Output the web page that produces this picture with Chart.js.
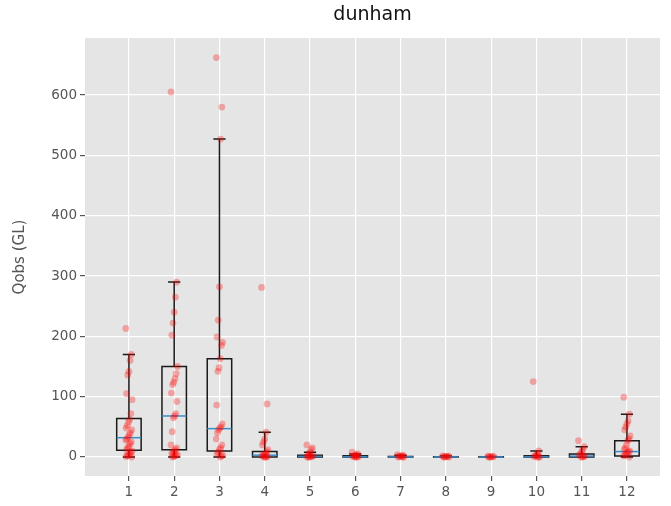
<!DOCTYPE html>
<html><head><meta charset="utf-8">
<script src="https://cdn.jsdelivr.net/npm/chart.js@4/dist/chart.umd.min.js"></script>
<style>html,body{margin:0;padding:0;background:#fff}</style>
</head><body>
<canvas id="c" width="671" height="506"></canvas>
<script>
const months = [1,2,3,4,5,6,7,8,9,10,11,12];
const obs1  = [213,170,160,142,136,105,95,72,62,58,52,48,45,40,37,33,30,28,25,22,18,15,12,10,8,5,3,2,1,0];
const obs2  = [605,290,265,240,222,202,150,138,130,124,120,106,92,72,68,65,42,20,15,12,10,8,6,4,3,2,1,0];
const obs3  = [662,580,527,282,227,199,190,185,163,148,142,86,55,50,48,45,40,30,20,15,12,8,5,3,2,0];
const obs4  = [281,88,41,30,25,20,12,9,6,4,3,2,1,0,0,0];
const obs5  = [20,15,12,8,5,3,2,1,1,0,0,0];
const obs6  = [8,5,4,3,2,1,1,0,0,0];
const obs7  = [4,3,2,1,1,0,0,0];
const obs8  = [2,1.5,1,0.5,0,0,0];
const obs9  = [1.5,1,0.5,0,0,0];
const obs10 = [125,10,6,3,2,1,0,0,0];
const obs11 = [27,17,12,9,5,3,1.5,1,0,0];
const obs12 = [99,71,60,55,50,45,35,30,27,20,15,12,10,9,8,5,3,2,0];
const observations = [obs1,obs2,obs3,obs4,obs5,obs6,obs7,obs8,obs9,obs10,obs11,obs12];

const whiskerLow  = [0,0,0,0,0,0,0,0,0,0,0,0];
const q1          = [11,12,10,0,0,0,0,0,0,0,0,1.5];
const median      = [32,68,47,3,1,0.5,0.3,0.2,0.1,0.5,1.5,9];
const q3          = [64,150,163,9,3,2,1,0.5,0.3,2,5,27];
const whiskerHigh = [170,290,527,41,8,5,3,1.5,1,10,17,71];

const yTicks = [0,100,200,300,400,500,600];

const BOX_W = 0.54;

// scatter points (deterministic small horizontal spread around each month)
const points = [];
observations.forEach((arr, m) => {
  arr.forEach((v, i) => {
    const dx = (((i * 7919) % 17) / 16 - 0.5) * 0.14;
    points.push({x: months[m] + dx, y: v});
  });
});

const bgPlugin = {
  id: 'bg',
  beforeDraw(chart) {
    const {ctx, chartArea: a} = chart;
    ctx.save();
    ctx.fillStyle = '#E5E5E5';
    ctx.fillRect(a.left, a.top, a.right - a.left, a.bottom - a.top);
    ctx.restore();
  }
};

const boxPlugin = {
  id: 'boxes',
  beforeDatasetsDraw(chart) {
    const {ctx, chartArea: a} = chart;
    const xs = chart.scales.x, ys = chart.scales.y;
    ctx.save();
    ctx.beginPath();
    ctx.rect(a.left, a.top, a.right - a.left, a.bottom - a.top);
    ctx.clip();
    months.forEach((m, i) => {
      const xc = xs.getPixelForValue(m);
      const hw = xs.getPixelForValue(m + BOX_W / 2) - xc;
      const cw = hw / 2;
      const yq1 = ys.getPixelForValue(q1[i]);
      const yq3 = ys.getPixelForValue(q3[i]);
      const ymed = ys.getPixelForValue(median[i]);
      const ylo = ys.getPixelForValue(whiskerLow[i]);
      const yhi = ys.getPixelForValue(whiskerHigh[i]);
      ctx.strokeStyle = '#1a1a1a';
      ctx.lineWidth = 1.5;
      ctx.beginPath();
      ctx.rect(xc - hw, yq3, 2 * hw, yq1 - yq3);
      ctx.moveTo(xc, yq3); ctx.lineTo(xc, yhi);
      ctx.moveTo(xc, yq1); ctx.lineTo(xc, ylo);
      ctx.moveTo(xc - cw, yhi); ctx.lineTo(xc + cw, yhi);
      ctx.moveTo(xc - cw, ylo); ctx.lineTo(xc + cw, ylo);
      ctx.stroke();
      ctx.strokeStyle = '#3a8cc8';
      ctx.lineWidth = 1.5;
      ctx.beginPath();
      ctx.moveTo(xc - hw, ymed); ctx.lineTo(xc + hw, ymed);
      ctx.stroke();
    });
    ctx.restore();
  }
};

new Chart(document.getElementById('c'), {
  type: 'scatter',
  data: {
    datasets: [{
      data: points,
      backgroundColor: 'rgba(255,0,0,0.3)',
      borderWidth: 0,
      pointRadius: 3.4,
      pointHoverRadius: 3.4
    }]
  },
  plugins: [bgPlugin, boxPlugin],
  options: {
    responsive: false,
    devicePixelRatio: 1,
    animation: false,
    layout: {padding: {left: 0, right: 11, top: 0, bottom: 0}},
    plugins: {
      legend: {display: false},
      tooltip: {enabled: false},
      title: {
        display: true,
        text: 'dunham',
        fullSize: false,
        color: '#111',
        font: {family: 'DejaVu Sans', size: 19, weight: 'normal'},
        padding: {top: 4, bottom: 11.2}
      }
    },
    scales: {
      x: {
        type: 'linear',
        min: 0.03, max: 12.73,
        afterBuildTicks: s => { s.ticks = months.map(v => ({value: v})); },
        afterFit: s => { s.height = 30; },
        grid: {color: '#FFFFFF', lineWidth: 1.2, tickColor: '#555', tickLength: 5, drawTicks: true},
        border: {display: false},
        ticks: {color: '#555', font: {family: 'DejaVu Sans', size: 13.5}, padding: 3, maxRotation: 0, autoSkip: false}
      },
      y: {
        min: -31.5, max: 694.5,
        afterBuildTicks: s => { s.ticks = yTicks.map(v => ({value: v})); },
        afterFit: s => { s.width = 85; },
        grid: {color: '#FFFFFF', lineWidth: 1.2, tickColor: '#555', tickLength: 5, drawTicks: true},
        border: {display: false},
        ticks: {color: '#555', font: {family: 'DejaVu Sans', size: 13.5}, padding: 3},
        title: {display: true, text: 'Qobs (GL)', color: '#555', font: {family: 'DejaVu Sans', size: 15}, padding: {top: 11, bottom: 0}}
      }
    }
  }
});
</script>
</body></html>
